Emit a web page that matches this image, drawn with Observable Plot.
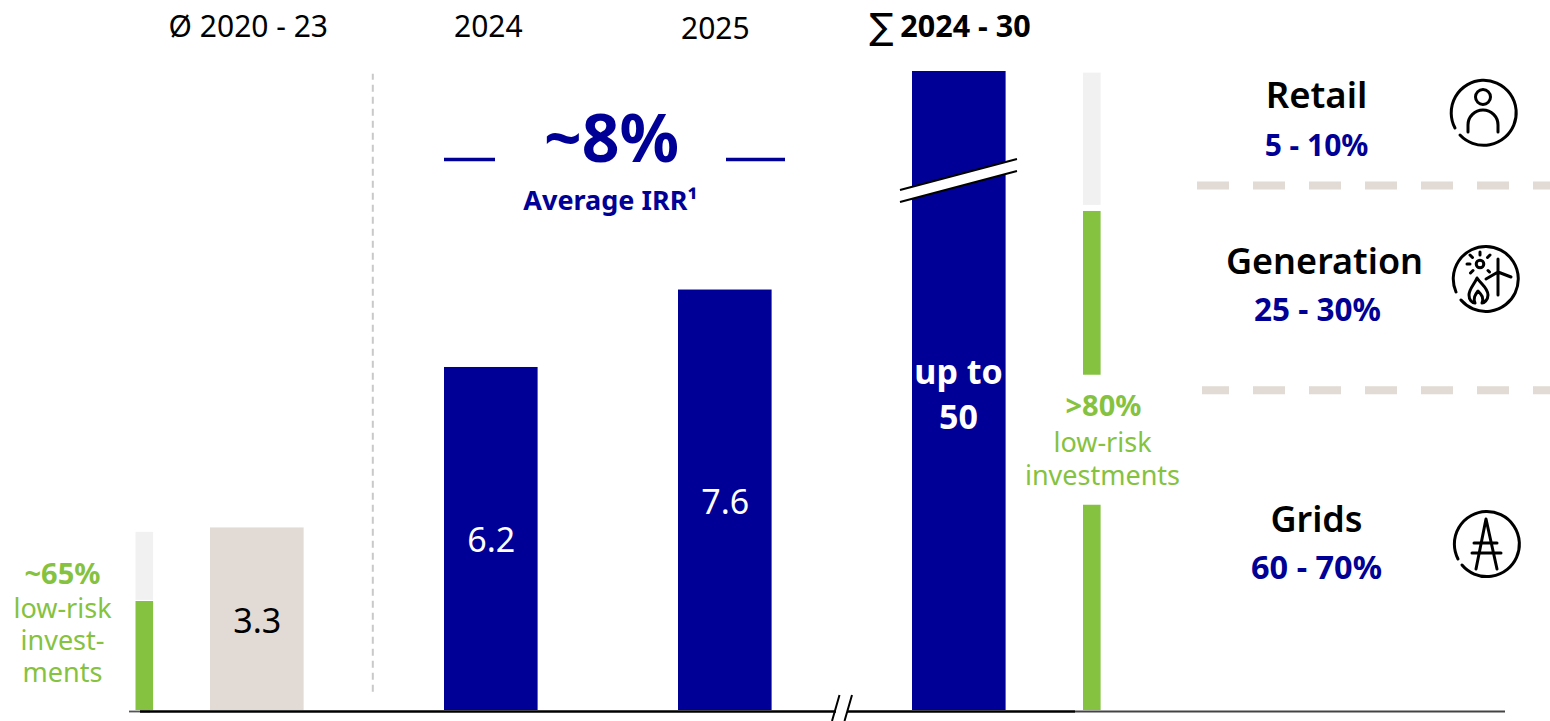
<!DOCTYPE html>
<html lang="en">
<head>
<meta charset="utf-8">
<title>Investments</title>
<script src="https://cdn.jsdelivr.net/npm/d3@7"></script>
<script src="https://cdn.jsdelivr.net/npm/@observablehq/plot@0.6"></script>
<style>
  html, body { margin: 0; padding: 0; background: #fff; overflow: hidden; }
  svg { display: block; }
</style>
</head>
<body>
<div id="chart"></div>
<script>
// ---- data ----
const columns = ["Ø 2020 - 23", "2024", "2025", "∑ 2024 - 30"];
const barValues = [3.3, 6.2, 7.6, 50];
const barLabels = ["3.3", "6.2", "7.6", "up to\n50"];
const yBreak = 11.55;           // axis is cut here; the 50 bar runs past it

const shareLeftBottom = [0, 1.99];
const shareLeftTop = [1.97, 3.22];
const shareLeftKind = ["low", "other"];
const shareRightBottom = [0, 6.06, 9.13];
const shareRightTop = [3.71, 9.02, 11.52];
const shareRightKind = ["low", "low", "other"];

const segmentNames = ["Retail", "Generation", "Grids"];
const segmentShares = ["5 - 10%", "25 - 30%", "60 - 70%"];
const irrValue = "~8%";
const irrLabel = "Average IRR¹";
const leftShareHead = "~65%";
const leftShareText = "low-risk\ninvest-\nments";
const rightShareHead = ">80%";
const rightShareText = "low-risk\ninvestments";

// ---- style ----
const NAVY = "#000096", GREEN = "#85C240", GREY = "#F1F1F1", BEIGE = "#E2DAD4";
const FONT = "'Noto Sans', sans-serif";

const bars = columns.map((c, i) => ({column: c, value: barValues[i], label: barLabels[i]}));
const toRows = (col, a, b, k) => a.map((v, i) => ({column: col, y1: v, y2: b[i], kind: k[i]}));
const shareLeft = toRows(columns[0], shareLeftBottom, shareLeftTop, shareLeftKind);
const shareRight = toRows(columns[3], shareRightBottom, shareRightTop, shareRightKind);
const shareFill = d => d.kind === "low" ? GREEN : GREY;

// text anchored to the frame
const note = (s, x, y, o = {}) => Plot.text([s], {
  text: d => d, frameAnchor: "top-left", dx: x, dy: y, textAnchor: "middle", lineAnchor: "middle",
  fontSize: 28, fill: "#000", ...o
});

// decorations that are not data: break marks and icons
const decor = () => {
  const g = d3.create("svg:g").attr("fill", "none").attr("stroke", "#000");
  g.html(`
    <polygon points="900,190 1017,159 1017,171 900,202" fill="#fff" stroke="none"/>
    <path d="M900 190 L1017 159 M900 202 L1017 171" stroke-width="2"/>
    <rect x="836" y="705" width="11" height="11" fill="#fff" stroke="none"/>
    <path d="M839.5 695 L832 721 M852 695 L844.5 721" stroke-width="2"/>
    <g stroke-width="3" stroke-linecap="round" stroke-linejoin="round">
      <path d="M1455 128 A32.5 32.5 0 1 1 1460 135"/>
      <circle cx="1483" cy="97" r="7.5"/>
      <path d="M1468 132 V125 A15 15 0 0 1 1498 125 V132"/>
      <path d="M1456 292 A32.5 32.5 0 1 1 1461 300"/>
      <circle cx="1480" cy="264" r="3.8"/>
      <path d="M1480 252 V255 M1470 255 L1472.5 257.5 M1490 255 L1487.5 257.5 M1467 264 H1470 M1470.5 273 L1473 270.5 M1488 270.5 L1489.5 272"/>
      <path d="M1498 259 V295 M1486 279 L1498 272 L1511 277"/>
      <path d="M1477 278 C1481 284 1488 288 1488 295 C1488 300 1484 303 1482 303 C1484 298 1482 295 1478 291 C1475 295 1473 298 1475 303 C1472 303 1469 300 1469 295 C1469 289 1474 285 1477 278 Z"/>
      <path d="M1458 559 A32.5 32.5 0 1 1 1462 565"/>
      <path d="M1476 569 L1486 519 L1497 569 M1474 543 H1497 M1472 553 H1501"/>
    </g>`);
  return g.node();
};

const headerDx = [-9, -3, -10];
const headerDy = [27, 27, 29];

const chart = Plot.plot({
  width: 1550,
  height: 721,
  marginTop: 0, marginRight: 0, marginBottom: 0, marginLeft: 0,
  style: {fontFamily: FONT, background: "#fff"},
  x: {type: "band", domain: columns, range: [69.6, 1146], padding: 0.6, round: false, axis: null},
  y: {domain: [0, yBreak], range: [710, 71], clamp: true, axis: null},
  marks: [
    // main bars
    Plot.barY(bars, {x: "column", y: "value", fill: d => d.column === columns[0] ? BEIGE : NAVY}),
    // low-risk share bars next to the first and last column
    Plot.barY(shareLeft, {x: "column", y1: "y1", y2: "y2", fill: shareFill, dx: -112.5, insetLeft: 38, insetRight: 38}),
    Plot.barY(shareRight, {x: "column", y1: "y1", y2: "y2", fill: shareFill, dx: 133, insetLeft: 38, insetRight: 38}),
    // column headers
    ...columns.slice(0, 3).map((c, i) => Plot.text([c], {
      x: d => d, text: d => d, frameAnchor: "top", dy: headerDy[i], dx: headerDx[i], lineAnchor: "middle", fontSize: 30, fill: "#000"
    })),
    note("∑", 881, 27, {fontSize: 36, fontFamily: "'DejaVu Sans', sans-serif"}),
    note(columns[3].slice(2), 965, 27, {fontSize: 30.5, fontWeight: 700}),
    // bar values
    Plot.text(bars.slice(0, 3), {
      x: "column", y: d => d.value / 2, text: "label", fontSize: 34, dy: 2.5,
      fill: d => d.column === columns[0] ? "#000" : "#fff"
    }),
    note(barLabels[3], 958, 392, {fontSize: 34, fontWeight: 700, fill: "#fff", lineHeight: 1.32}),
    // average IRR
    note(irrValue, 611, 140, {fontSize: 66, fontWeight: 700, fill: NAVY}),
    note(irrLabel, 610, 201, {fontSize: 27, fontWeight: 700, fill: NAVY}),
    Plot.ruleY([9.96], {stroke: NAVY, strokeWidth: 3.5, insetLeft: 444, insetRight: 1055}),
    Plot.ruleY([9.96], {stroke: NAVY, strokeWidth: 3.5, insetLeft: 726, insetRight: 765}),
    // dashed divider between history and plan
    Plot.ruleX([columns[1]], {dx: -118.5, y1: 0.33, y2: 11.5, stroke: "#C9C9C9", strokeWidth: 2, strokeDasharray: "7 5"}),
    // segment dividers
    Plot.ruleY([9.49], {stroke: BEIGE, strokeWidth: 8, strokeDasharray: "32 24", insetLeft: 1197}),
    Plot.ruleY([5.79], {stroke: BEIGE, strokeWidth: 8, strokeDasharray: "32 24", strokeDashoffset: 5, insetLeft: 1202}),
    // baseline
    Plot.ruleY([0], {stroke: "#444", strokeWidth: 1.8, dy: 1, insetLeft: 1075, insetRight: 45}),
    Plot.ruleY([0], {stroke: "#555", strokeWidth: 1.8, dy: 1, insetLeft: 129, insetRight: 1400}),
    Plot.ruleY([0], {stroke: "#000", strokeWidth: 2.4, dy: 1, insetLeft: 140, insetRight: 475}),
    // segments
    note(segmentNames[0], 1316, 96, {fontSize: 36.5, fontWeight: 600}),
    note(segmentShares[0], 1316, 145.5, {fontSize: 30, fontWeight: 700, fill: NAVY}),
    note(segmentNames[1], 1324, 262, {fontSize: 36, fontWeight: 600}),
    note(segmentShares[1], 1317, 310.5, {fontSize: 31.5, fontWeight: 700, fill: NAVY}),
    note(segmentNames[2], 1316, 520, {fontSize: 36, fontWeight: 600}),
    note(segmentShares[2], 1316, 568.5, {fontSize: 32.5, fontWeight: 700, fill: NAVY}),
    // low-risk annotations
    note(leftShareHead, 62, 574, {fontSize: 29, fontWeight: 700, fill: GREEN}),
    note(leftShareText, 62, 639, {fontSize: 27, lineHeight: 1.19, fill: GREEN}),
    note(rightShareHead, 1103, 406, {fontSize: 29, fontWeight: 700, fill: GREEN}),
    note(rightShareText, 1102, 457, {fontSize: 27, lineHeight: 1.22, fill: GREEN}),
    decor
  ]
});
document.getElementById("chart").append(chart);
</script>
</body>
</html>
